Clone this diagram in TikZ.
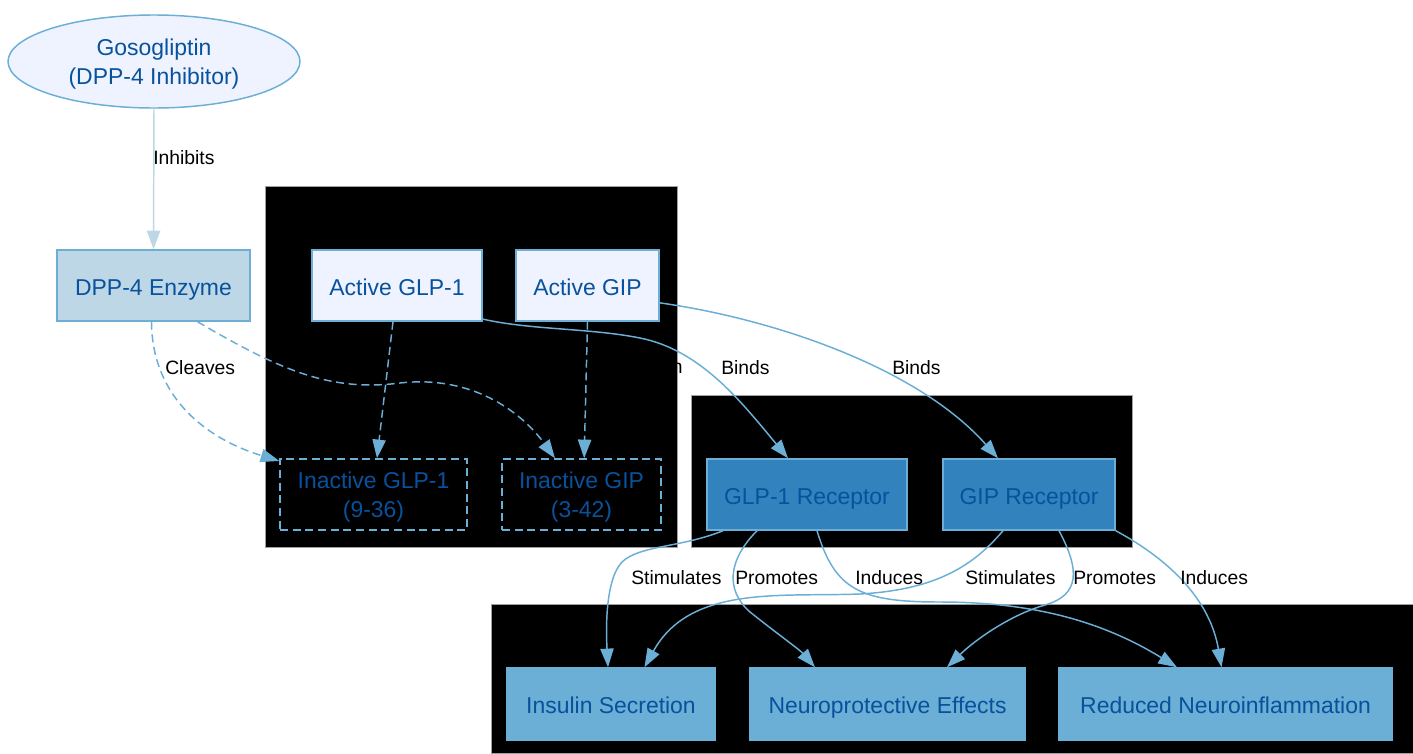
\documentclass[tikz,border=0pt]{standalone}
\usepackage{fontspec}
\setmainfont{Liberation Sans}
\usetikzlibrary{arrows.meta, shapes.geometric, positioning}
\definecolor{bpale}{HTML}{EFF3FF}
\definecolor{blight}{HTML}{BDD7E7}
\definecolor{bmid}{HTML}{6BAED6}
\definecolor{bdeep}{HTML}{3182BD}
\definecolor{bdark}{HTML}{08519C}
\definecolor{clline}{HTML}{A0A0A0}
\tikzset{
  nbox/.style={draw=bmid, line width=1.1pt, text=bdark, minimum height=53.25pt,
               inner sep=0pt, align=center, text depth=0pt,
               font=\fontsize{17.2}{21.75}\selectfont},
  oneline/.style={text height=14.5pt},
  paleb/.style={nbox, oneline, fill=bpale},
  lightb/.style={nbox, oneline, fill=blight},
  deepb/.style={nbox, oneline, fill=bdeep},
  midb/.style={nbox, oneline, fill=bmid, minimum height=54pt},
  dashb/.style={nbox, dash pattern=on 6pt off 3.5pt},
  elab/.style={font=\fontsize{14.5}{17}\selectfont, text=black, inner sep=0pt},
  arr/.style={-{Triangle[length=14pt, width=10pt]}, line width=1.1pt, bmid},
  darr/.style={arr, dash pattern=on 6pt off 3.5pt},
  cluster/.style={fill=black, draw=clline, line width=0.5pt},
}

\begin{document}
\begin{tikzpicture}[x=0.75pt, y=-0.75pt]
  \useasboundingbox (0,0) rectangle (1413,753);
  % clusters
  \draw[cluster] (265,186) rectangle (677,547);
  \draw[cluster] (691,395) rectangle (1132,547);
  \draw[cluster] (491,604) rectangle (1413,753);

  \node[elab, anchor=east] (lDegrade) at (683,368) {Degradation};

  % nodes
  \node[nbox, ellipse, fill=bpale, minimum width=219pt, minimum height=69.75pt] (goso)
        at (154,61.5) {Gosogliptin\\(DPP-4 Inhibitor)};
  \node[lightb, minimum width=144.75pt] (dpp) at (153.5,285.5) {DPP-4 Enzyme};
  \node[paleb, minimum width=127.5pt] (aglp) at (397,285.5) {Active GLP-1};
  \node[paleb, minimum width=107.25pt] (agip) at (587.5,285.5) {Active GIP};
  \node[dashb, minimum width=140.25pt] (iglp) at (373.5,494.5) {Inactive GLP-1\\(9-36)};
  \node[dashb, minimum width=119.25pt] (igip) at (581.5,494.5) {Inactive GIP\\(3-42)};
  \node[deepb, minimum width=150pt] (rglp) at (807,494.5) {GLP-1 Receptor};
  \node[deepb, minimum width=129pt] (rgip) at (1029,494.5) {GIP Receptor};
  \node[midb, minimum width=156pt] (ins) at (611,704) {Insulin Secretion};
  \node[midb, minimum width=206.25pt] (neu) at (887.5,704) {Neuroprotective Effects};
  \node[midb, minimum width=249.75pt] (red) at (1225.5,704) {Reduced Neuroinflammation};

  % edges
  \draw[arr, blight] (goso.south) -- (dpp.north);
  \draw[darr] ([xshift=-1.5pt]dpp.south) .. controls (152,400) and (210,440) .. ([yshift=-2pt]iglp.north west);
  \draw[darr] ([xshift=33pt]dpp.south) .. controls (280,370) and (330,392) .. (400,383)
              .. controls (470,375) and (520,410) .. ([xshift=-19.9pt]igip.north);
  \draw[darr] ([xshift=-3pt]aglp.south) -- ([xshift=2.6pt]iglp.north);
  \draw[darr] (agip.south) -- ([xshift=2pt]igip.north);
  \draw[arr] ([yshift=2pt]aglp.south east) .. controls (530,330) and (590,328) .. (640,338)
             .. controls (700,350) and (740,400) .. ([xshift=-14.25pt]rglp.north);
  \draw[arr] ([yshift=-13pt]agip.east) .. controls (780,320) and (920,370) .. ([xshift=-23.25pt]rgip.north);
  \draw[arr] ([xshift=-63pt]rglp.south) .. controls (680,548) and (640,545) .. (622,562)
             .. controls (605,580) and (606,630) .. ([xshift=-2.25pt]ins.north);
  \draw[arr] ([xshift=-37.5pt]rglp.south) .. controls (728,560) and (725,590) .. (750,612)
             .. controls (775,632) and (800,650) .. ([xshift=-54.4pt]neu.north);
  \draw[arr] ([xshift=7.5pt]rglp.south) .. controls (835,590) and (860,602) .. (940,602)
             .. controls (1030,602) and (1100,620) .. ([xshift=-36.4pt]red.north);
  \draw[arr] ([xshift=-19.5pt]rgip.south) .. controls (970,570) and (930,590) .. (860,594)
             .. controls (780,597) and (690,585) .. ([xshift=25.1pt]ins.north);
  \draw[arr] ([xshift=22.5pt]rgip.south) .. controls (1080,570) and (1080,595) .. (1045,605)
             .. controls (1010,615) and (975,640) .. ([xshift=44.6pt]neu.north);
  \draw[arr] (rgip.south east) .. controls (1170,560) and (1210,600) .. ([xshift=-3pt]red.north);

  % labels
  \node[elab, anchor=west] (lInhibits) at (153,158) {Inhibits};
  \node[elab, anchor=west] (lCleaves) at (165,368) {Cleaves};
  \node[elab, anchor=west] (lBindsA) at (721,368) {Binds};
  \node[elab, anchor=west] (lBindsB) at (892,368) {Binds};
  \node[elab, anchor=west] (lStimA) at (631,578) {Stimulates};
  \node[elab, anchor=west] (lPromA) at (735,578) {Promotes};
  \node[elab, anchor=west] (lIndA) at (855,578) {Induces};
  \node[elab, anchor=west] (lStimB) at (965,578) {Stimulates};
  \node[elab, anchor=west] (lPromB) at (1073,578) {Promotes};
  \node[elab, anchor=west] (lIndB) at (1180,578) {Induces};
\end{tikzpicture}
\end{document}
